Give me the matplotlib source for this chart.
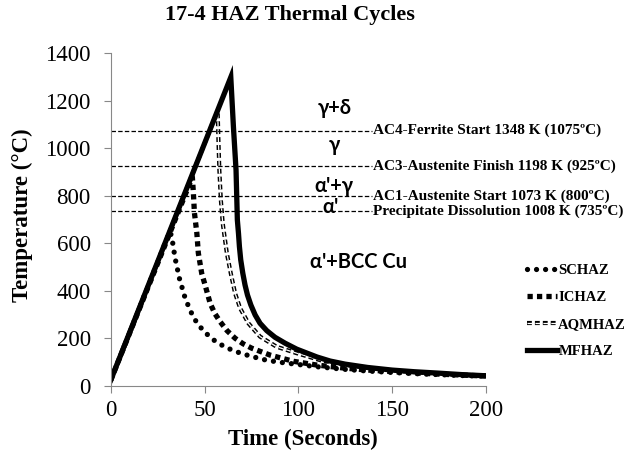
import numpy as np
import matplotlib.pyplot as plt

plt.rcParams['font.family'] = ['Liberation Serif', 'DejaVu Serif']
plt.rcParams['lines.scale_dashes'] = False

# Thermal cycle data (time in s, temperature in degC)
t_sc = [0, 31.5, 32.5, 34.3, 36.6, 39.8, 44.1, 47.5, 51.2, 55.5, 60.1, 65, 70.4, 81, 89, 97.4,
        110, 125, 137, 150, 162, 175, 187, 200]
T_sc = [25, 650, 629, 538, 453, 366, 288, 250, 219, 190, 168, 150, 135, 112, 101, 93,
        81, 70, 63, 57, 52, 48, 44, 41]

t_ic = [0, 43.5, 44, 44.6, 45.9, 46.7, 48.5, 50.3, 53, 55.5, 58.3, 62, 66.3, 70.5, 75.2, 85, 97.4,
        110, 125, 137, 150, 162, 175, 187, 200]
T_ic = [25, 880, 820, 730, 643, 559, 474, 425, 348, 305, 271, 233, 201, 178, 159, 130, 104,
        88, 75, 67, 61, 55, 50, 46, 42]

t_aq = [0, 57, 57.4, 57.9, 58.7, 59.7, 61.9, 64, 66.3, 69, 73.4, 79.6, 88.5, 99.2, 112, 125,
        137, 150, 162, 175, 187, 200]
T_aq = [25, 1160, 1036, 909, 783, 685, 559, 474, 390, 327, 264, 208, 165, 138, 108, 89,
        76, 66, 58, 52, 47, 43]

t_mf = [0, 64, 65.4, 66.8, 67.5, 68.1, 68.6, 69.3, 70.4, 71.6, 72.9, 74.7, 77, 79.6, 83.2, 87.6,
        93, 99.2, 110, 117, 125, 137, 150, 162, 175, 187, 200]
T_mf = [25, 1300, 1092, 909, 699, 643, 587, 531, 475, 425, 383, 341, 299, 264, 233, 205,
        180, 155, 122, 105, 92, 78, 67, 60, 54, 48, 43]

# Transformation temperatures
crit_T = [1075, 925, 800, 735]
crit_labels = ['AC4-Ferrite Start 1348 K (1075\u00baC)',
               'AC3-Austenite Finish 1198 K (925\u00baC)',
               'AC1-Austenite Start 1073 K (800\u00baC)',
               'Precipitate Dissolution 1008 K (735\u00baC)']
crit_xend = 139.5

# Phase field labels
phase_text = ['\u03b3+\u03b4', '\u03b3', "\u03b1'+\u03b3", "\u03b1'", "\u03b1'+BCC Cu"]
phase_x = [119.5, 119, 119, 117, 132]
phase_T = [1172, 1015, 842, 755, 520]

fig = plt.figure(figsize=(6.33, 4.61), dpi=100)
ax = fig.add_axes([0.175, 0.1627, 0.5925, 0.7213])

l_sc, = ax.plot(t_sc, T_sc, color='black', lw=3.8, linestyle=(0, (0.01, 6.5)),
                dash_capstyle='round', solid_capstyle='round')
l_ic, = ax.plot(t_ic, T_ic, color='black', lw=3.8, linestyle=(0, (3.8, 3.0)),
                dash_capstyle='butt')
l_aq1, = ax.plot(t_aq, T_aq, color='black', lw=3.0, linestyle=(0, (3.5, 2.2)),
                 dash_capstyle='butt')
l_aq2, = ax.plot(t_aq, T_aq, color='white', lw=0.9, linestyle=(0, (3.5, 2.2)),
                 dash_capstyle='butt')
l_mf, = ax.plot(t_mf, T_mf, color='black', lw=3.8, solid_joinstyle='miter')

ax.hlines(crit_T, 0, crit_xend, colors='black', lw=0.9, linestyles=(0, (3.2, 1.6)))
for T, lab in zip(crit_T, crit_labels):
    ax.text(crit_xend + 0.5, T, lab, fontsize=11, fontweight='bold', va='center', ha='left')

for x, T, s in zip(phase_x, phase_T, phase_text):
    ax.text(x, T, s, fontsize=14.5, fontweight='bold', ha='center', va='center',
            family=['Lato', 'Noto Sans', 'DejaVu Sans'])

ax.set_xlim(0, 200)
ax.set_ylim(0, 1400)
ax.set_xticks([0, 50, 100, 150, 200])
ax.set_yticks(np.arange(0, 1401, 200))
ax.tick_params(labelsize=16.5, color='#888888', length=5, width=0.8)
ax.tick_params(axis='y', pad=9.5)
ax.tick_params(axis='x', pad=5)
for side in ['top', 'right']:
    ax.spines[side].set_visible(False)
for side in ['left', 'bottom']:
    ax.spines[side].set_color('#888888')
    ax.spines[side].set_linewidth(0.8)

fig.text(290 / 633, 1 - 15 / 461, '17-4 HAZ Thermal Cycles', fontsize=16, fontweight='bold',
         ha='center', va='center')
ax.text(0.513, -0.162, 'Time (Seconds)', transform=ax.transAxes, fontsize=16.5,
        fontweight='bold', ha='center', va='center')
ax.text(-0.236, 0.513, 'Temperature (\u00b0C)', transform=ax.transAxes, fontsize=16.5,
        fontweight='bold', ha='center', va='center', rotation=90)

leg = fig.legend([l_sc, l_ic, (l_aq1, l_aq2), l_mf], ['SCHAZ', 'ICHAZ', 'AQMHAZ', 'MFHAZ'],
                 loc='upper left', bbox_to_anchor=(527 / 633, 1 - 264 / 461),
                 frameon=False, prop={'weight': 'bold', 'size': 10.5},
                 handlelength=2.05, handletextpad=0.1, labelspacing=0.95,
                 borderpad=0, borderaxespad=0)

fig.savefig('out.png', dpi=100)
